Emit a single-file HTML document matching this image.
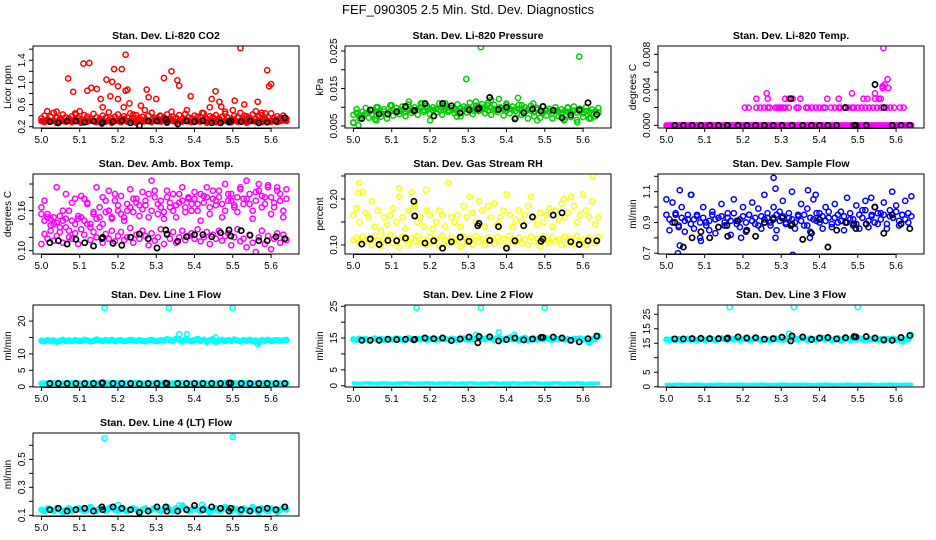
<!DOCTYPE html>
<html><head><meta charset="utf-8"><style>
html,body{margin:0;padding:0;background:#fff;}
svg{display:block;font-family:"Liberation Sans",Arial,sans-serif;}
</style></head><body>
<svg id="chart" width="936" height="540" viewBox="0 0 936 540" xmlns="http://www.w3.org/2000/svg">
<text x="468" y="14" text-anchor="middle" font-size="13">FEF_090305  2.5 Min. Std. Dev. Diagnostics</text>
</svg>
<script>
const xTime = [5.000,5.008,5.016,5.024,5.032,5.040,5.048,5.056,5.064,5.072,5.080,5.088,5.096,5.104,5.112,5.120,5.128,5.136,5.144,5.152,5.160,5.168,5.176,5.184,5.192,5.200,5.208,5.216,5.224,5.232,5.240,5.248,5.256,5.264,5.272,5.280,5.288,5.296,5.304,5.312,5.320,5.328,5.336,5.344,5.352,5.360,5.368,5.376,5.384,5.392,5.400,5.408,5.416,5.424,5.432,5.440,5.448,5.456,5.464,5.472,5.480,5.488,5.496,5.504,5.512,5.520,5.528,5.536,5.544,5.552,5.560,5.568,5.576,5.584,5.592,5.600,5.608,5.616,5.624,5.632,5.640];
const xBlack = [5.022,5.044,5.067,5.090,5.113,5.136,5.158,5.160,5.187,5.210,5.233,5.256,5.279,5.302,5.325,5.328,5.356,5.379,5.400,5.422,5.445,5.468,5.490,5.495,5.522,5.545,5.568,5.590,5.613,5.636];
const xTicks = [5.0,5.1,5.2,5.3,5.4,5.5,5.6];
const xTickLabels = ["5.0","5.1","5.2","5.3","5.4","5.5","5.6"];

const co2Band = [0.30,0.28,0.32,0.29,0.31,0.27,0.33,0.30,0.29,0.31,0.28,0.34,0.30,0.27,0.32,0.29,0.31,0.30,0.28,0.33,0.30,0.29,0.32,0.27,0.31,0.30,0.28,0.34,0.29,0.31,0.30,0.27,0.32,0.29,0.30,0.31,0.28,0.33,0.30,0.29,0.31,0.27,0.32,0.30,0.28,0.31,0.29,0.33,0.30,0.28,0.31,0.30,0.29,0.32,0.27,0.31,0.30,0.28,0.33,0.29,0.31,0.30,0.28,0.32,0.29,0.30,0.31,0.27,0.33,0.30,0.29,0.31,0.28,0.32,0.30,0.29,0.31,0.28,0.30,0.32,0.30];
const co2Band2 = [0.35,0.40,0.33,0.38,0.45,0.36,0.34,0.42,0.37,0.35,0.39,0.44,0.36,0.33,0.41,0.38,0.35,0.43,0.37,0.34,0.40,0.36,0.46,0.35,0.38,0.42,0.34,0.39,0.37,0.44,0.35,0.41,0.36,0.38,0.33,0.40,0.45,0.36,0.34,0.39,0.37,0.42,0.35,0.38,0.36,0.41,0.34,0.43,0.37,0.35,0.40,0.38,0.36,0.44,0.34,0.39,0.37,0.41,0.35,0.38,0.43,0.36,0.34,0.40,0.37,0.45,0.35,0.39,0.36,0.42,0.34,0.38,0.41,0.36,0.37,0.44,0.35,0.39,0.36,0.40,0.34];
const co2ExtraX = [5.015,5.04,5.07,5.083,5.11,5.125,5.12,5.13,5.145,5.155,5.17,5.185,5.19,5.21,5.2,5.22,5.22,5.225,5.2,5.215,5.18,5.275,5.28,5.3,5.32,5.34,5.355,5.36,5.39,5.445,5.455,5.465,5.505,5.52,5.53,5.565,5.59,5.595,5.6,5.585,5.1,5.05,5.16,5.26,5.27,5.34,5.42,5.48,5.5,5.56,5.38,5.24,5.44,5.09,5.23,5.31,5.47,5.53,5.575];
const co2ExtraY = [0.48,0.47,1.07,0.83,1.34,1.35,0.85,0.90,0.88,0.70,1.05,1.01,1.24,1.24,0.93,1.50,0.85,0.87,0.70,0.55,0.75,0.87,0.73,0.70,1.08,1.20,1.04,0.94,0.75,0.70,0.84,0.65,0.67,1.62,0.60,0.65,1.22,0.93,0.97,0.44,0.48,0.35,0.55,0.58,0.50,0.47,0.45,0.47,0.50,0.48,0.50,0.42,0.55,0.42,0.62,0.40,0.56,0.40,0.45];
const co2Black = [0.29,0.27,0.30,0.30,0.28,0.30,0.26,0.28,0.29,0.31,0.27,0.22,0.30,0.30,0.33,0.28,0.25,0.30,0.29,0.31,0.27,0.27,0.28,0.30,0.29,0.30,0.27,0.28,0.30,0.36];

const presBand = [0.0080,0.0085,0.0078,0.0088,0.0083,0.0087,0.0082,0.0090,0.0086,0.0084,0.0089,0.0083,0.0088,0.0091,0.0086,0.0090,0.0093,0.0088,0.0092,0.0095,0.0090,0.0094,0.0098,0.0093,0.0097,0.0095,0.0092,0.0096,0.0094,0.0099,0.0095,0.0092,0.0097,0.0094,0.0090,0.0096,0.0093,0.0098,0.0095,0.0091,0.0097,0.0094,0.0099,0.0096,0.0092,0.0098,0.0095,0.0093,0.0097,0.0094,0.0091,0.0096,0.0093,0.0090,0.0095,0.0092,0.0088,0.0094,0.0091,0.0087,0.0093,0.0090,0.0086,0.0092,0.0089,0.0085,0.0091,0.0088,0.0084,0.0090,0.0087,0.0085,0.0091,0.0086,0.0089,0.0084,0.0090,0.0087,0.0085,0.0089,0.0086];
const presBand2 = [0.0060,0.0095,0.0070,0.0078,0.0098,0.0072,0.0092,0.0068,0.0100,0.0075,0.0095,0.0070,0.0105,0.0078,0.0098,0.0082,0.0102,0.0076,0.0108,0.0085,0.0100,0.0080,0.0110,0.0088,0.0104,0.0082,0.0100,0.0086,0.0110,0.0080,0.0104,0.0088,0.0098,0.0084,0.0108,0.0076,0.0102,0.0086,0.0112,0.0082,0.0104,0.0090,0.0108,0.0084,0.0112,0.0080,0.0106,0.0088,0.0100,0.0078,0.0110,0.0084,0.0102,0.0072,0.0106,0.0080,0.0100,0.0070,0.0104,0.0076,0.0098,0.0072,0.0102,0.0078,0.0096,0.0070,0.0100,0.0076,0.0094,0.0068,0.0098,0.0074,0.0102,0.0066,0.0096,0.0074,0.0100,0.0070,0.0094,0.0076,0.0098];
const presExtraX = [5.295,5.333,5.59,5.43,5.145,5.38,5.36,5.24,5.32,5.0,5.013,5.1,5.44,5.55,5.585,5.62,5.27,5.06,5.2,5.48,5.4,5.47,5.18,5.06,5.56,5.3,5.35];
const presExtraY = [0.0175,0.0260,0.0235,0.0125,0.0115,0.0122,0.0120,0.0110,0.0115,0.0058,0.0052,0.0105,0.0105,0.0065,0.0060,0.0070,0.0075,0.0065,0.0065,0.0065,0.0105,0.0110,0.0110,0.0100,0.0100,0.0100,0.0105];
const presBlack = [0.0070,0.0093,0.0082,0.0082,0.0088,0.0102,0.0090,0.0092,0.0110,0.0077,0.0110,0.0104,0.0085,0.0093,0.0095,0.0098,0.0126,0.0094,0.0100,0.0069,0.0085,0.0095,0.0090,0.0102,0.0092,0.0072,0.0079,0.0093,0.0112,0.0081];

const tempBand = [0,0,0,0,0,0,0,0,0,0,0,0,0,0,0,0,0,0,0,0,0,0,0,0,0,0,0,0,0,0,0,0,0,0,0,0,0,0,0,0,0,0,0,0,0,0,0,0,0,0,0,0,0,0,0,0,0,0,0,0,0,0,0,0,0,0,0,0,0,0,0,0,0,0,0,0,0,0,0,0,0];
const tempExtraX = [5.205,5.215,5.235,5.245,5.255,5.265,5.27,5.285,5.29,5.295,5.30,5.305,5.31,5.32,5.34,5.345,5.365,5.37,5.38,5.39,5.40,5.41,5.415,5.43,5.44,5.45,5.455,5.465,5.475,5.485,5.49,5.50,5.51,5.52,5.53,5.54,5.55,5.56,5.575,5.585,5.595,5.61,5.62,5.235,5.265,5.31,5.32,5.33,5.35,5.42,5.45,5.515,5.525,5.545,5.555,5.56,5.262,5.485,5.545,5.565,5.57,5.578,5.58,5.565,5.567];
const tempExtraY = [0.002,0.002,0.002,0.002,0.002,0.002,0.002,0.002,0.002,0.002,0.002,0.002,0.002,0.002,0.002,0.002,0.002,0.002,0.002,0.002,0.002,0.002,0.002,0.002,0.002,0.002,0.002,0.002,0.002,0.002,0.002,0.002,0.002,0.002,0.002,0.002,0.002,0.002,0.002,0.002,0.002,0.002,0.002,0.003,0.003,0.003,0.003,0.003,0.003,0.003,0.003,0.003,0.003,0.003,0.003,0.003,0.0036,0.0036,0.0036,0.0044,0.0046,0.0052,0.0042,0.0042,0.0087];
const tempBlack = [0,0,0,0,0,0,0,0,0,0,0,0,0,0,0.003,0,0,0,0,0,0,0.002,0,0,0,0.0046,0.002,0,0,0];

const ambBand = [0.165,0.145,0.155,0.138,0.150,0.142,0.135,0.160,0.148,0.130,0.172,0.140,0.152,0.182,0.145,0.170,0.135,0.158,0.148,0.165,0.140,0.175,0.160,0.150,0.185,0.168,0.155,0.150,0.160,0.165,0.178,0.172,0.168,0.162,0.175,0.185,0.160,0.190,0.170,0.165,0.158,0.180,0.172,0.160,0.168,0.185,0.175,0.165,0.180,0.170,0.178,0.160,0.185,0.172,0.180,0.165,0.190,0.175,0.180,0.170,0.160,0.185,0.175,0.168,0.180,0.195,0.170,0.178,0.185,0.160,0.175,0.190,0.182,0.170,0.195,0.180,0.165,0.190,0.175,0.160,0.178];
const ambBand2 = [0.110,0.125,0.118,0.130,0.115,0.122,0.128,0.112,0.135,0.120,0.118,0.126,0.110,0.132,0.124,0.140,0.116,0.128,0.120,0.135,0.112,0.125,0.118,0.130,0.114,0.122,0.128,0.116,0.120,0.134,0.112,0.124,0.118,0.130,0.122,0.108,0.126,0.115,0.120,0.132,0.110,0.124,0.118,0.128,0.112,0.120,0.130,0.116,0.122,0.126,0.118,0.132,0.114,0.120,0.128,0.110,0.124,0.118,0.130,0.115,0.122,0.126,0.108,0.120,0.132,0.114,0.118,0.105,0.124,0.112,0.098,0.120,0.130,0.110,0.122,0.102,0.118,0.126,0.112,0.124,0.116];
const ambBand3 = [0.155,0.175,0.150,0.148,0.140,0.195,0.152,0.145,0.185,0.160,0.145,0.178,0.148,0.150,0.178,0.172,0.140,0.155,0.195,0.150,0.180,0.158,0.190,0.148,0.175,0.160,0.182,0.145,0.170,0.192,0.158,0.178,0.152,0.188,0.168,0.150,0.205,0.180,0.155,0.175,0.148,0.190,0.165,0.185,0.150,0.172,0.195,0.158,0.178,0.160,0.188,0.170,0.145,0.182,0.195,0.155,0.178,0.168,0.190,0.150,0.200,0.175,0.185,0.165,0.158,0.192,0.178,0.205,0.170,0.148,0.188,0.200,0.165,0.180,0.198,0.155,0.172,0.195,0.185,0.150,0.192];
const ambBlack = [0.112,0.115,0.110,0.117,0.112,0.107,0.118,0.120,0.111,0.108,0.120,0.125,0.118,0.104,0.131,0.125,0.114,0.121,0.124,0.124,0.121,0.127,0.131,0.122,0.130,0.123,0.115,0.115,0.121,0.118];

const rhBand = [0.110,0.115,0.105,0.118,0.108,0.112,0.100,0.120,0.110,0.098,0.115,0.108,0.122,0.104,0.112,0.095,0.118,0.110,0.102,0.116,0.108,0.120,0.105,0.112,0.100,0.118,0.108,0.114,0.098,0.120,0.110,0.104,0.116,0.108,0.112,0.096,0.118,0.106,0.114,0.102,0.120,0.108,0.112,0.100,0.116,0.110,0.104,0.118,0.108,0.114,0.098,0.120,0.110,0.106,0.116,0.104,0.112,0.100,0.118,0.108,0.114,0.096,0.120,0.110,0.104,0.116,0.108,0.112,0.100,0.118,0.106,0.114,0.102,0.120,0.108,0.112,0.100,0.116,0.110,0.104,0.118];
const rhBand2 = [0.165,0.180,0.150,0.215,0.170,0.160,0.195,0.140,0.175,0.130,0.160,0.145,0.165,0.180,0.150,0.205,0.160,0.135,0.175,0.215,0.190,0.150,0.160,0.140,0.175,0.165,0.135,0.150,0.175,0.165,0.140,0.235,0.160,0.150,0.165,0.140,0.185,0.160,0.205,0.170,0.150,0.195,0.175,0.140,0.185,0.160,0.190,0.145,0.160,0.175,0.210,0.165,0.140,0.155,0.175,0.150,0.165,0.185,0.205,0.160,0.145,0.170,0.150,0.165,0.180,0.140,0.175,0.155,0.190,0.160,0.170,0.205,0.185,0.150,0.165,0.210,0.175,0.160,0.195,0.145,0.160];
const rhExtraX = [5.015,5.013,5.16,5.625,5.19,5.55,5.12];
const rhExtraY = [0.235,0.213,0.185,0.250,0.220,0.200,0.223];
const rhBlack = [0.102,0.113,0.101,0.110,0.109,0.115,0.195,0.163,0.104,0.109,0.093,0.107,0.117,0.108,0.142,0.147,0.110,0.140,0.093,0.109,0.142,0.161,0.108,0.113,0.165,0.170,0.107,0.101,0.109,0.109];

const flowBand = [0.95,0.92,0.90,0.96,0.88,0.93,0.91,0.95,0.89,0.92,0.94,0.90,0.93,0.88,0.91,0.95,0.92,0.87,0.94,0.90,0.93,0.91,0.96,0.89,0.92,0.94,0.90,0.95,0.91,0.93,0.88,0.94,0.92,0.96,0.90,0.93,0.95,0.91,0.94,0.89,0.96,0.92,0.90,0.94,0.91,0.95,0.88,0.93,0.92,0.96,0.90,0.94,0.91,0.97,0.89,0.93,0.95,0.91,0.94,0.90,0.96,0.92,0.89,0.95,0.93,0.98,0.91,0.94,0.90,0.96,0.92,0.95,0.89,0.94,0.93,0.97,0.91,0.95,0.92,0.96,0.94];
const flowBand2 = [1.05,0.85,1.03,0.95,0.87,1.00,0.84,0.92,1.08,0.86,0.95,0.80,1.00,0.90,0.85,0.97,0.83,0.93,1.02,0.88,0.96,0.82,1.05,0.91,0.87,1.00,0.84,0.95,1.03,0.89,0.99,0.86,1.08,0.93,0.88,1.00,0.85,0.97,1.04,0.90,0.93,1.10,0.86,0.95,1.02,0.88,0.99,0.84,1.05,0.91,0.96,0.86,1.00,0.93,0.87,1.02,0.90,0.97,0.85,1.06,0.92,0.88,1.01,0.86,0.98,1.04,0.87,0.95,1.00,0.89,0.96,1.03,0.86,0.98,0.93,1.01,0.88,0.95,1.04,0.90,1.07];
const flowExtraX = [5.03,5.035,5.035,5.065,5.28,5.285,5.33,5.37,5.39,5.285,5.195,5.09,5.375,5.59,5.535];
const flowExtraY = [0.70,0.75,1.11,1.08,1.19,1.12,0.69,1.11,1.08,0.80,0.80,0.78,0.80,1.10,1.06];
const flowBlack = [0.90,0.74,0.80,0.84,0.80,0.87,0.88,0.81,0.91,0.85,0.81,0.90,0.92,0.93,0.88,0.89,0.79,0.83,0.92,0.74,0.85,0.90,0.89,0.86,0.89,1.00,0.83,0.95,0.89,0.86];

const l1Band = [14.0,13.8,14.2,13.9,14.1,13.7,14.0,14.3,13.9,14.1,13.8,14.2,14.0,13.9,14.3,14.1,13.8,14.0,14.4,14.1,13.9,14.2,14.0,14.3,13.8,14.1,14.2,13.9,14.0,14.3,14.1,13.9,14.2,14.0,13.8,14.1,14.3,14.0,13.9,14.2,14.1,14.5,14.2,14.0,14.6,14.3,13.8,14.4,14.1,13.9,14.2,14.6,14.0,14.3,13.7,14.2,14.5,13.6,14.1,14.3,13.9,14.2,14.0,14.4,14.1,13.8,14.2,14.0,14.3,13.9,14.1,13.5,14.2,14.0,14.3,13.9,14.1,14.2,14.0,14.1,14.3];
const l1Low = [1.0,1.0,0.9,1.0,1.1,1.0,1.0,0.9,1.0,1.0,1.1,1.0,1.0,0.9,1.0,1.0,1.0,1.1,1.0,1.0,0.9,1.0,1.0,1.0,1.1,1.0,1.0,0.9,1.0,1.0,1.0,1.1,1.0,1.0,0.9,1.0,1.0,1.0,1.1,1.0,1.0,0.9,1.0,1.0,1.0,1.1,1.0,1.0,0.9,1.0,1.0,1.0,1.1,1.0,1.0,0.9,1.0,1.0,1.0,1.1,1.0,1.0,0.9,1.0,1.0,1.0,1.1,1.0,1.0,0.9,1.0,1.0,1.0,1.1,1.0,1.0,0.9,1.0,1.0,1.0,1.0];
const l1ExtraX = [5.165,5.333,5.5,5.36,5.38,5.455,5.565];
const l1ExtraY = [24.0,24.0,24.0,16.0,16.0,15.0,13.0];
const l1Black = [1.0,1.0,1.0,1.0,1.0,1.0,1.1,1.2,1.0,1.0,1.0,0.9,1.0,1.0,1.1,1.0,1.0,1.0,1.0,1.0,1.0,1.0,1.1,1.1,1.0,1.0,1.0,1.0,1.0,1.0];

const l2Band = [14.6,14.4,14.8,14.5,14.7,14.3,14.6,14.9,14.5,14.7,14.4,14.8,14.6,14.5,14.9,14.7,14.4,14.6,15.0,14.7,14.5,14.8,14.6,14.9,14.4,14.7,14.8,14.5,14.6,14.9,14.7,14.5,14.8,14.6,14.4,14.7,14.9,14.6,14.5,14.8,14.7,15.1,14.8,14.6,15.2,14.9,14.4,15.0,14.7,14.5,14.8,15.2,14.6,14.9,14.3,14.8,15.1,14.2,14.7,14.9,14.5,14.8,14.6,15.0,14.7,14.4,14.8,14.6,14.9,14.5,14.7,14.1,14.8,14.6,14.9,14.5,14.7,13.5,14.6,14.7,15.5];
const l2Low = [0.8,0.8,0.7,0.8,0.9,0.8,0.8,0.7,0.8,0.8,0.9,0.8,0.8,0.7,0.8,0.8,0.8,0.9,0.8,0.8,0.7,0.8,0.8,0.8,0.9,0.8,0.8,0.7,0.8,0.8,0.8,0.9,0.8,0.8,0.7,0.8,0.8,0.8,0.9,0.8,0.8,0.7,0.8,0.8,0.8,0.9,0.8,0.8,0.7,0.8,0.8,0.8,0.9,0.8,0.8,0.7,0.8,0.8,0.8,0.9,0.8,0.8,0.7,0.8,0.8,0.8,0.9,0.8,0.8,0.7,0.8,0.8,0.8,0.9,0.8,0.8,0.7,0.8,0.8,0.8,0.8];
const l2ExtraX = [5.165,5.333,5.5,5.38,5.42,5.32];
const l2ExtraY = [24.5,24.5,24.5,16.8,16.0,16.0];
const l2Black = [14.3,14.3,14.3,14.6,14.5,14.6,14.4,14.6,15.0,14.8,15.0,14.2,14.7,15.3,13.5,15.5,15.4,14.1,14.5,15.0,14.4,14.7,15.2,15.2,15.3,15.0,14.3,13.8,14.8,15.6];

const l3Band = [16.3,16.1,16.5,16.2,16.4,16.0,16.3,16.6,16.2,16.4,16.1,16.5,16.3,16.2,16.6,16.4,16.1,16.3,16.7,16.4,16.2,16.5,16.3,16.6,16.1,16.4,16.5,16.2,16.3,16.6,16.4,16.2,16.5,16.3,16.1,16.4,16.6,16.3,16.2,16.5,16.4,16.8,16.5,16.3,16.9,16.6,16.1,16.7,16.4,16.2,16.5,16.9,16.3,16.6,16.0,16.5,16.8,15.9,16.4,16.6,16.2,16.5,16.3,16.7,16.4,16.1,16.5,16.3,16.6,16.2,16.4,15.8,16.5,16.3,16.6,16.2,16.4,15.6,16.3,16.4,17.8];
const l3Low = [0.8,0.8,0.7,0.8,0.9,0.8,0.8,0.7,0.8,0.8,0.9,0.8,0.8,0.7,0.8,0.8,0.8,0.9,0.8,0.8,0.7,0.8,0.8,0.8,0.9,0.8,0.8,0.7,0.8,0.8,0.8,0.9,0.8,0.8,0.7,0.8,0.8,0.8,0.9,0.8,0.8,0.7,0.8,0.8,0.8,0.9,0.8,0.8,0.7,0.8,0.8,0.8,0.9,0.8,0.8,0.7,0.8,0.8,0.8,0.9,0.8,0.8,0.7,0.8,0.8,0.8,0.9,0.8,0.8,0.7,0.8,0.8,0.8,0.9,0.8,0.8,0.7,0.8,0.8,0.8,0.8];
const l3ExtraX = [5.165,5.333,5.5,5.32];
const l3ExtraY = [27.5,27.5,27.5,18.3];
const l3Black = [16.5,16.5,16.6,16.7,16.6,16.6,16.6,16.8,17.2,16.8,16.9,16.4,16.6,17.1,15.8,17.5,17.2,16.3,16.8,17.0,16.5,16.9,17.3,17.2,17.3,16.8,16.2,16.0,17.0,17.7];

const l4Band = [0.14,0.13,0.15,0.14,0.13,0.15,0.14,0.12,0.14,0.15,0.13,0.14,0.15,0.14,0.13,0.14,0.16,0.14,0.13,0.15,0.14,0.13,0.15,0.16,0.14,0.13,0.15,0.14,0.13,0.14,0.15,0.14,0.12,0.14,0.15,0.13,0.14,0.15,0.14,0.13,0.14,0.16,0.14,0.13,0.15,0.14,0.17,0.15,0.13,0.14,0.15,0.14,0.13,0.15,0.14,0.12,0.14,0.15,0.13,0.14,0.16,0.14,0.13,0.15,0.14,0.12,0.15,0.14,0.13,0.16,0.14,0.12,0.15,0.14,0.13,0.15,0.14,0.12,0.14,0.15,0.14];
const l4ExtraX = [5.165,5.5,5.42,5.2,5.36];
const l4ExtraY = [0.650,0.660,0.175,0.175,0.170];
const l4Black = [0.14,0.15,0.13,0.14,0.15,0.13,0.16,0.14,0.16,0.15,0.14,0.12,0.13,0.16,0.16,0.13,0.13,0.14,0.17,0.14,0.16,0.15,0.13,0.15,0.14,0.13,0.14,0.15,0.14,0.16];

const panels = [
 {name:"co2",title:"Stan. Dev. Li-820 CO2",ylab:"Licor ppm",col:0,row:0,color:"#ff0000",ymin:0.176,ymax:1.658,
  ticks:[0.2,0.4,0.6,0.8,1.0,1.2,1.4,1.6],labels:{"0.2":"0.2","0.6":"0.6","1":"1.0","1.4":"1.4"},
  band:[co2Band],thin:[],cloud:[co2Band2],ex:[co2ExtraX,co2ExtraY],black:co2Black},
 {name:"pressure",title:"Stan. Dev. Li-820 Pressure",ylab:"kPa",col:1,row:0,color:"#00cd00",ymin:0.00447,ymax:0.02633,
  ticks:[0.005,0.01,0.015,0.02,0.025],labels:{"0.005":"0.005","0.015":"0.015","0.025":"0.025"},
  band:[],thin:[],cloud:[presBand,presBand2],ex:[presExtraX,presExtraY],black:presBlack},
 {name:"li820-temp",title:"Stan. Dev. Li-820 Temp.",ylab:"degrees C",col:2,row:0,color:"#ff00ff",ymin:-0.0003,ymax:0.00894,
  ticks:[0,0.002,0.004,0.006,0.008],labels:{"0":"0.000","0.004":"0.004","0.008":"0.008"},
  band:[tempBand],thin:[],cloud:[],ex:[tempExtraX,tempExtraY],black:tempBlack},
 {name:"amb-temp",title:"Stan. Dev. Amb. Box Temp.",ylab:"degrees C",col:0,row:1,color:"#ff00ff",ymin:0.095,ymax:0.215,
  ticks:[0.10,0.12,0.14,0.16,0.18,0.20],labels:{"0.1":"0.10","0.16":"0.16"},
  band:[],thin:[],cloud:[ambBand,ambBand2,ambBand3],ex:[[],[]],black:ambBlack},
 {name:"gas-rh",title:"Stan. Dev. Gas Stream RH",ylab:"percent",col:1,row:1,color:"#ffff00",ymin:0.0804,ymax:0.2543,
  ticks:[0.10,0.15,0.20,0.25],labels:{"0.1":"0.10","0.2":"0.20"},
  band:[],thin:[],cloud:[rhBand,rhBand2],ex:[rhExtraX,rhExtraY],black:rhBlack},
 {name:"sample-flow",title:"Stan. Dev. Sample Flow",ylab:"ml/min",col:2,row:1,color:"#0000ff",ymin:0.695,ymax:1.215,
  ticks:[0.7,0.8,0.9,1.0,1.1,1.2],labels:{"0.7":"0.7","0.9":"0.9","1.1":"1.1"},
  band:[],thin:[],cloud:[flowBand,flowBand2],ex:[flowExtraX,flowExtraY],black:flowBlack},
 {name:"line1-flow",title:"Stan. Dev. Line 1 Flow",ylab:"ml/min",col:0,row:2,color:"#00ffff",ymin:-0.09,ymax:24.9,
  ticks:[0,5,10,15,20],labels:{"0":"0","5":"5","10":"10","20":"20"},
  band:[l1Band,l1Low],thin:[],cloud:[],ex:[l1ExtraX,l1ExtraY],black:l1Black},
 {name:"line2-flow",title:"Stan. Dev. Line 2 Flow",ylab:"ml/min",col:1,row:2,color:"#00ffff",ymin:-0.41,ymax:25.4,
  ticks:[0,5,10,15,20,25],labels:{"0":"0","5":"5","15":"15","25":"25"},
  band:[l2Band],thin:[l2Low],cloud:[],ex:[l2ExtraX,l2ExtraY],black:l2Black},
 {name:"line3-flow",title:"Stan. Dev. Line 3 Flow",ylab:"ml/min",col:2,row:2,color:"#00ffff",ymin:-0.1,ymax:28.2,
  ticks:[0,5,10,15,20,25],labels:{"0":"0","5":"5","15":"15","20":"15","25":"25"},
  band:[l3Band],thin:[l3Low],cloud:[],ex:[l3ExtraX,l3ExtraY],black:l3Black},
 {name:"line4-flow",title:"Stan. Dev. Line 4 (LT) Flow",ylab:"ml/min",col:0,row:3,color:"#00ffff",ymin:0.095,ymax:0.688,
  ticks:[0.1,0.2,0.3,0.4,0.5,0.6],labels:{"0.1":"0.1","0.3":"0.3","0.5":"0.5"},
  band:[l4Band],thin:[],cloud:[],ex:[l4ExtraX,l4ExtraY],black:l4Black}
];

const NS="http://www.w3.org/2000/svg";
const svg=document.getElementById('chart');
const colL=[33,345,658], colW=266;
const rowT=[46,174,305,433], rowH=[82,80,82,83];
const XMIN=4.978, XMAX=5.673;

function mk(tag,attrs,parent){const e=document.createElementNS(NS,tag);for(const k in attrs)e.setAttribute(k,attrs[k]);parent.appendChild(e);return e;}

panels.forEach(p=>{
  const L=colL[p.col], T=rowT[p.row], W=colW, H=rowH[p.row];
  const xs=v=>L+(v-XMIN)/(XMAX-XMIN)*W;
  const ys=v=>T+H-(v-p.ymin)/(p.ymax-p.ymin)*H;
  const g=mk('g',{},svg);
  
  
  const t=mk('text',{x:L+W/2,y:T-7,'text-anchor':'middle','font-size':'10.5','font-weight':'bold'},g);
  t.textContent=p.title;
  
  
  const yl=mk('text',{x:0,y:0,'text-anchor':'middle','font-size':'10',transform:`translate(${L-22},${T+H/2}) rotate(-90)`},g);
  yl.textContent=p.ylab;
  
  
  const cid='clip-'+p.name;
  const cp=mk('clipPath',{id:cid},g); mk('rect',{x:L,y:T,width:W,height:H},cp);
  const marks=mk('g',{'clip-path':`url(#${cid})`},g);
  
  
  const circ=(x,y,c,sw,r)=>{const e=mk('circle',{cx:xs(x).toFixed(1),cy:ys(y).toFixed(1),r:r||2.6,fill:'none',stroke:c,'stroke-width':sw},marks);
    
    };
  const drawBand=(arr,w,r)=>{
    const pts=arr.map((v,i)=>i<xTime.length?xs(xTime[i]).toFixed(1)+','+ys(v).toFixed(1):null).filter(Boolean).join(' ');
    const pl=mk('polyline',{points:pts,fill:'none',stroke:p.color,'stroke-width':w,'stroke-linejoin':'round','stroke-linecap':'round'},marks);
    
    
    arr.forEach((v,i)=>{if(i<xTime.length)circ(xTime[i],v,p.color,1.2,r);});
  };
  p.band.forEach(arr=>drawBand(arr,6,2.6));
  p.thin.forEach(arr=>drawBand(arr,3,1.3));
  p.cloud.forEach(arr=>arr.forEach((v,i)=>{if(i<xTime.length)circ(xTime[i],v,p.color,1.5);}));
  p.ex[0].forEach((x,i)=>{if(i<p.ex[1].length)circ(x,p.ex[1][i],p.color,1.5);});
  p.black.forEach((v,i)=>{if(i<xBlack.length)circ(xBlack[i],v,'#000',1.7);});
  const box=mk('rect',{x:L,y:T,width:W,height:H,fill:'none',stroke:'#000','stroke-width':1},g);
  
  
  const xa=mk('g',{},g);
  
  
  mk('line',{x1:xs(xTicks[0]),x2:xs(xTicks[xTicks.length-1]),y1:T+H+0.5,y2:T+H+0.5,stroke:'#000'},xa);
  xTicks.forEach((v,i)=>{
    mk('line',{x1:xs(v),x2:xs(v),y1:T+H,y2:T+H+4,stroke:'#000'},xa);
    const tx=mk('text',{x:xs(v),y:T+H+15,'text-anchor':'middle','font-size':'10'},xa);
    tx.textContent=xTickLabels[i];
  });
  const ya=mk('g',{},g);
  
  
  p.ticks.forEach(v=>{
    const yy=ys(v); if(yy<T-1||yy>T+H+1)return;
    mk('line',{x1:L-4,x2:L,y1:yy,y2:yy,stroke:'#000'},ya);
    const key=String(+v.toFixed(6));
    if(p.labels[key]!==undefined){
      const tx=mk('text',{x:0,y:0,'text-anchor':'middle','font-size':'10',transform:`translate(${L-8},${yy}) rotate(-90)`},ya);
      tx.textContent=p.labels[key];
    }
  });
});
</script>
</body></html>
